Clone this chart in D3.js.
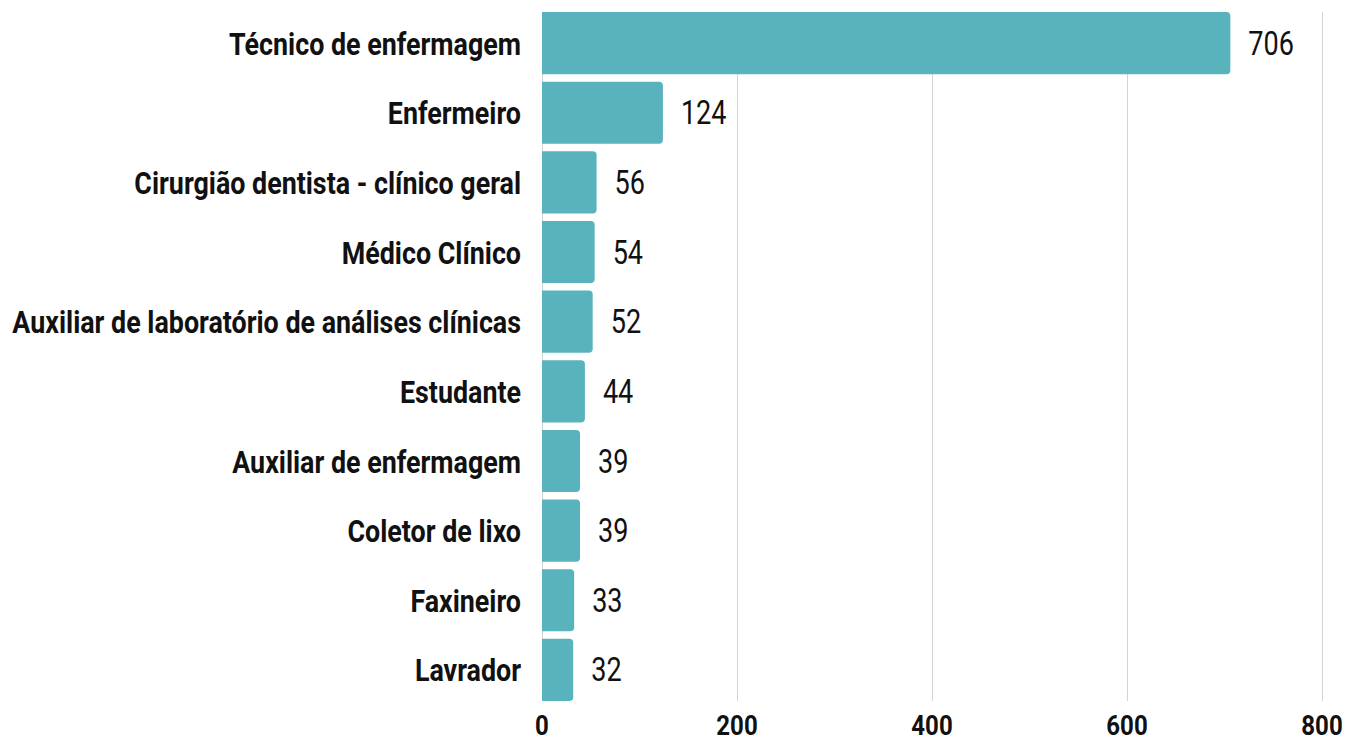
<!DOCTYPE html>
<html>
<head>
<meta charset="utf-8">
<script src="https://cdn.jsdelivr.net/npm/d3@7"></script>
<style>
  body { margin: 0; background: #fff; }
  svg { display: block; }
</style>
</head>
<body>
<svg id="chart" width="1348" height="742"></svg>
<script>
// dados
const categories = [
  'Técnico de enfermagem',
  'Enfermeiro',
  'Cirurgião dentista - clínico geral',
  'Médico Clínico',
  'Auxiliar de laboratório de análises clínicas',
  'Estudante',
  'Auxiliar de enfermagem',
  'Coletor de lixo',
  'Faxineiro',
  'Lavrador'
];
const values = [706, 124, 56, 54, 52, 44, 39, 39, 33, 32];
const tickValues = [0, 200, 400, 600, 800];

const data = categories.map((c, i) => ({ category: c, value: values[i] }));

const svg = d3.select('#chart');
const plot = { left: 542, right: 1322, top: 12, bottom: 701 };
const font = "Roboto, 'Noto Sans', sans-serif";

const x = d3.scaleLinear().domain([0, 800]).range([plot.left, plot.right]);
const y = d3.scaleBand().domain(categories).range([plot.top, plot.bottom]).paddingInner(0.108).paddingOuter(0);

// grid
svg.append('g')
  .selectAll('line')
  .data(tickValues)
  .enter()
  .append('line')
  .attr('x1', d => x(d) + 0.5)
  .attr('x2', d => x(d) + 0.5)
  .attr('y1', plot.top)
  .attr('y2', plot.bottom)
  .attr('stroke', '#d4d4d4')
  .attr('stroke-width', 1);

// barras (canto direito arredondado)
const r = 4;
function barPath(d) {
  const x0 = x(0), x1 = x(d.value), y0 = y(d.category), h = y.bandwidth();
  const rr = Math.min(r, (x1 - x0) / 2);
  return `M${x0},${y0}H${x1 - rr}Q${x1},${y0} ${x1},${y0 + rr}V${y0 + h - rr}Q${x1},${y0 + h} ${x1 - rr},${y0 + h}H${x0}Z`;
}
svg.append('g')
  .selectAll('path')
  .data(data)
  .enter()
  .append('path')
  .attr('d', barPath)
  .attr('fill', '#58b3bd');

// rótulos de valor (fonte comprimida na horizontal)
svg.append('g')
  .selectAll('text')
  .data(data)
  .enter()
  .append('text')
  .attr('transform', d => `translate(${x(d.value) + 18},${y(d.category) + y.bandwidth() / 2}) scale(0.82,1)`)
  .attr('dy', '0.35em')
  .style('font-family', font)
  .style('font-size', '33px')
  .style('fill', '#111')
  .text(d => d.value);

// categorias
const labels = svg.append('g')
  .selectAll('text')
  .data(data)
  .enter()
  .append('text')
  .attr('text-anchor', 'end')
  .attr('dy', '0.36em')
  .style('font-family', font)
  .style('font-weight', 'bold')
  .style('font-size', '32px')
  .style('fill', '#111')
  .text(d => d.category);

// encaixa o rótulo mais longo entre x=12 e x=521
const maxW = d3.max(labels.nodes(), n => n.getComputedTextLength());
const sx = Math.min(1, 509 / maxW);
labels.attr('transform', d => `translate(521,${y(d.category) + y.bandwidth() / 2}) scale(${sx},1)`);

// eixo x
svg.append('g')
  .selectAll('text')
  .data(tickValues)
  .enter()
  .append('text')
  .attr('transform', d => `translate(${x(d)},735) scale(0.86,1)`)
  .attr('text-anchor', 'middle')
  .style('font-family', font)
  .style('font-weight', 'bold')
  .style('font-size', '28px')
  .style('fill', '#111')
  .text(d => d);
</script>
</body>
</html>
